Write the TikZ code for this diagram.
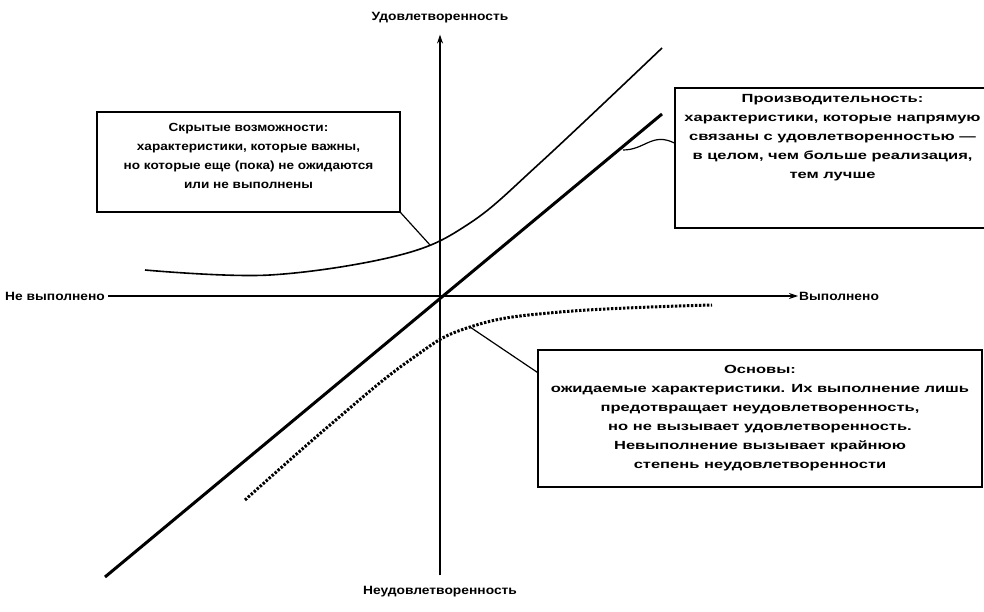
\documentclass[tikz,border=0pt]{standalone}
\usepackage{fontspec}
\setmainfont{Liberation Sans}
\newfontfamily\labelfont[FakeStretch=1.15]{Liberation Sans}
\newfontfamily\widefont[FakeStretch=1.4]{Liberation Sans}
\newcommand{\padbelow}[1]{\rule[-#1]{0pt}{0pt}}
\usetikzlibrary{arrows.meta}
\begin{document}
\begin{tikzpicture}[>={Stealth[length=9pt,width=6pt]}, x=1pt, y=-1pt,
    lbl/.style={font=\fontsize{12}{14}\selectfont\labelfont\bfseries, inner sep=1pt},
    note/.style={draw, line width=1.2pt, align=center, font=\fontsize{11.8}{19}\selectfont\widefont\bfseries}]
\useasboundingbox (0,0) rectangle (984,612);
% axes
\node[lbl] (sat) at (440,18) {Удовлетворенность};
\node[lbl] (dis) at (440,592) {Неудовлетворенность};
\node[lbl, anchor=west] (no) at (4,296) {Не выполнено};
\node[lbl, anchor=west] (yes) at (798,296) {Выполнено};
\draw[->, line width=1.2pt, shorten <=2pt] (no) -- (yes);
\draw[->, line width=1.2pt, shorten <=10pt, shorten >=10pt] (dis) -- (sat);

% curves
\draw[line width=3pt] (105,577) -- (662,114);
\draw[line width=1.6pt, smooth, tension=0.6] plot coordinates {(145,270) (270,275) (400,255) (470,223) (540,163) (662,48)};
\draw[line width=3pt, dash pattern=on 2.4pt off 1.6pt, smooth, tension=0.7] plot coordinates {(245,500) (330,425) (410,360) (470,327) (560,312) (712,305)};

% boxes
\node[note, font=\fontsize{11.8}{19}\selectfont\labelfont\bfseries, minimum width=303, minimum height=100] (hidden) at (248.5,162)
    {Скрытые возможности:\\характеристики, которые важны,\\но которые еще (пока) не ожидаются\\или не выполнены\padbelow{12pt}};
\node[note, minimum width=315, minimum height=140] (perf) at (832.5,158)
    {Производительность:\\характеристики, которые напрямую\\связаны с удовлетворенностью —\\в целом, чем больше реализация,\\тем лучше\padbelow{44pt}};
\node[note, minimum width=444, minimum height=137] (basic) at (760,418.5)
    {Основы:\\ожидаемые характеристики. Их выполнение лишь\\предотвращает неудовлетворенность,\\но не вызывает удовлетворенность.\\Невыполнение вызывает крайнюю\\степень неудовлетворенности};

% callouts
\coordinate (h1) at (430,245);
\coordinate (p1) at (623,150);
\coordinate (b1) at (470,327);
\draw[line width=1.2pt] (hidden.south east) -- (h1);
\draw[line width=1.2pt] ([yshift=15pt]perf.west) .. controls (652,132) and (645,150) .. (p1);
\draw[line width=1.2pt] ([yshift=-23pt]basic.north west) -- (b1);
\end{tikzpicture}
\end{document}
